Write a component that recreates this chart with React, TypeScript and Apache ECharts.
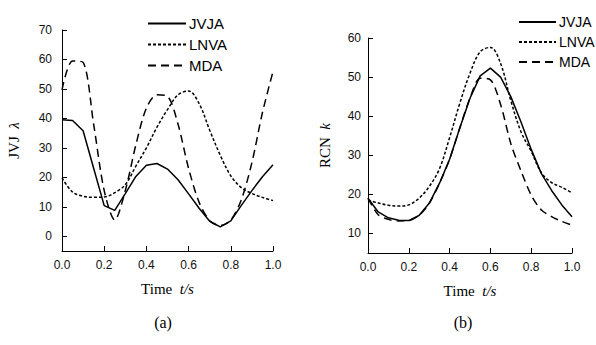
import React, { useEffect, useRef } from "react";
import * as echarts from "echarts";

// Time samples (s)
const times = [0, 0.05, 0.1, 0.15, 0.2, 0.25, 0.3, 0.35, 0.4, 0.45, 0.5, 0.55, 0.6, 0.65, 0.7, 0.75, 0.8, 0.85, 0.9, 0.95, 1.0];

// (a) JVJ λ
const jvjaA = [39.5, 39.3, 35.8, 23.1, 10.4, 8.8, 14.5, 20.3, 24.1, 24.7, 22.8, 19.2, 14.4, 9.5, 5.1, 3.2, 5.2, 10.5, 15.5, 20.2, 24.3];
const lnvaA = [19.8, 15.0, 13.6, 13.2, 13.3, 14.8, 17.5, 23.8, 30.0, 37.0, 43.0, 48.0, 49.3, 45.0, 36.0, 27.5, 20.5, 16.5, 14.5, 13.2, 12.1];
const mdaA = [49.7, 59.5, 59.0, 38.0, 15.5, 5.5, 15.5, 31.0, 43.5, 48.0, 47.5, 38.0, 23.0, 11.5, 5.3, 3.6, 5.5, 12.4, 25.0, 42.0, 55.9];

// (b) RCN k
const jvjaB = [19.0, 15.5, 14.0, 13.4, 13.3, 14.6, 17.7, 22.8, 29.0, 37.0, 44.6, 50.3, 52.3, 50.0, 45.0, 38.5, 31.5, 25.3, 21.0, 17.3, 14.3];
const lnvaB = [18.5, 17.8, 17.2, 17.0, 17.3, 19.0, 22.0, 26.5, 34.5, 43.3, 51.0, 56.5, 57.6, 53.5, 44.0, 36.0, 31.0, 25.5, 23.0, 21.8, 20.4];
const mdaB = [19.0, 14.8, 13.6, 13.2, 13.3, 14.6, 17.7, 22.8, 29.0, 37.0, 44.6, 49.7, 49.3, 43.0, 33.0, 26.0, 19.8, 16.0, 14.3, 13.1, 12.1];

const seriesNames = ["JVJA", "LNVA", "MDA"];
const yTicksA = [0, 10, 20, 30, 40, 50, 60, 70];
const yTicksB = [10, 20, 30, 40, 50, 60];
const panelLabels = ["(a)", "(b)"];

const SANS = "'Liberation Sans', Arial, sans-serif";
const SERIF = "'Liberation Serif', 'Times New Roman', serif";

const lineTypes: any[] = ["solid", [3, 2], [8, 5]];
const smooths: any[] = [false, 0.35, 0.3];

function pts(vals: number[]) {
  return times.map((t, i) => [t, vals[i]]);
}

function xAxisFor(gridIndex: number) {
  return {
    type: "value",
    gridIndex,
    min: 0,
    max: 1,
    interval: 0.2,
    axisLine: { onZero: false, lineStyle: { color: "#000", width: 1 } },
    axisTick: { inside: true, length: 5, lineStyle: { color: "#000", width: 1 } },
    axisLabel: {
      color: "#111",
      fontSize: 12,
      fontFamily: SANS,
      margin: 8,
      formatter: (v: number) => v.toFixed(1),
    },
    splitLine: { show: false },
    name: "{n|Time}  {i|t/s}",
    nameLocation: "middle",
    nameGap: 30,
    nameTextStyle: {
      color: "#000",
      fontFamily: SERIF,
      fontSize: 15,
      rich: {
        n: { fontFamily: SERIF, fontSize: 15, color: "#000" },
        i: { fontFamily: SERIF, fontSize: 15, fontStyle: "italic", color: "#000" },
      },
    },
  };
}

function yAxisFor(gridIndex: number, min: number, max: number, ticks: number[], name: string, gap: number, margin: number) {
  return {
    type: "value",
    gridIndex,
    min,
    max,
    axisLine: { show: true, onZero: false, lineStyle: { color: "#000", width: 1 } },
    axisTick: { show: true, inside: true, length: 5, customValues: ticks, lineStyle: { color: "#000", width: 1 } },
    axisLabel: { color: "#111", fontSize: 12, fontFamily: SANS, margin, customValues: ticks },
    splitLine: { show: false },
    name,
    nameLocation: "middle",
    nameRotate: 90,
    nameGap: gap,
    nameTextStyle: {
      color: "#000",
      fontFamily: SERIF,
      fontSize: 15,
      rich: {
        n: { fontFamily: SERIF, fontSize: 15, color: "#000" },
        i: { fontFamily: SERIF, fontSize: 15, fontStyle: "italic", color: "#000" },
      },
    },
  };
}

function makeSeries(gridIndex: number, datasets: number[][]) {
  return datasets.map((vals, k) => ({
    type: "line",
    name: seriesNames[k],
    xAxisIndex: gridIndex,
    yAxisIndex: gridIndex,
    data: pts(vals),
    symbol: "none",
    smooth: smooths[k],
    lineStyle: { color: "#000", width: 1.5, type: lineTypes[k] },
    itemStyle: { color: "#000" },
    emphasis: { disabled: true },
  }));
}

const hiddenSymbol = { color: "rgba(0,0,0,0)", borderColor: "rgba(0,0,0,0)", borderWidth: 0, opacity: 0 };

export default function App() {
  const ref = useRef<HTMLDivElement>(null);
  useEffect(() => {
    if (!ref.current) return;
    const chart = echarts.init(ref.current, null, { renderer: "svg" });
    const option: any = {
      animation: false,
      backgroundColor: "#fff",
      textStyle: { fontFamily: SANS },
      grid: [
        { left: 62, top: 30, width: 211, height: 221, outerBoundsMode: "none" },
        { left: 368, top: 38, width: 204, height: 215, outerBoundsMode: "none" },
      ],
      xAxis: [xAxisFor(0), xAxisFor(1)],
      yAxis: [
        yAxisFor(0, -5, 70, yTicksA, "{n|JVJ}  {i|λ}", 41, 10),
        yAxisFor(1, 5, 60, yTicksB, "{n|RCN}  {i|k}", 36, 7),
      ],
      legend: [
        {
          data: seriesNames,
          orient: "vertical",
          left: 142,
          top: 11,
          itemWidth: 38,
          itemHeight: 14,
          itemGap: 6,
          selectedMode: false,
          itemStyle: hiddenSymbol,
          textStyle: { color: "#000", fontSize: 15, fontFamily: SANS, padding: [0, 0, 0, -2] },
        },
        {
          data: seriesNames,
          orient: "vertical",
          left: 513,
          top: 10,
          itemWidth: 37,
          itemHeight: 14,
          itemGap: 6,
          selectedMode: false,
          itemStyle: hiddenSymbol,
          textStyle: { color: "#000", fontSize: 14, fontFamily: SANS, padding: [0, 0, 0, -2] },
        },
      ],
      graphic: [
        {
          type: "text",
          x: 163,
          y: 322,
          style: { text: panelLabels[0], fontSize: 16, fontFamily: SERIF, fill: "#000", align: "center", verticalAlign: "middle" },
        },
        {
          type: "text",
          x: 463,
          y: 322,
          style: { text: panelLabels[1], fontSize: 16, fontFamily: SERIF, fill: "#000", align: "center", verticalAlign: "middle" },
        },
      ],
      series: [...makeSeries(0, [jvjaA, lnvaA, mdaA]), ...makeSeries(1, [jvjaB, lnvaB, mdaB])],
    };
    chart.setOption(option);
    return () => chart.dispose();
  }, []);
  return <div ref={ref} style={{ position: "absolute", left: 0, top: 0, width: 596, height: 345 }} />;
}
